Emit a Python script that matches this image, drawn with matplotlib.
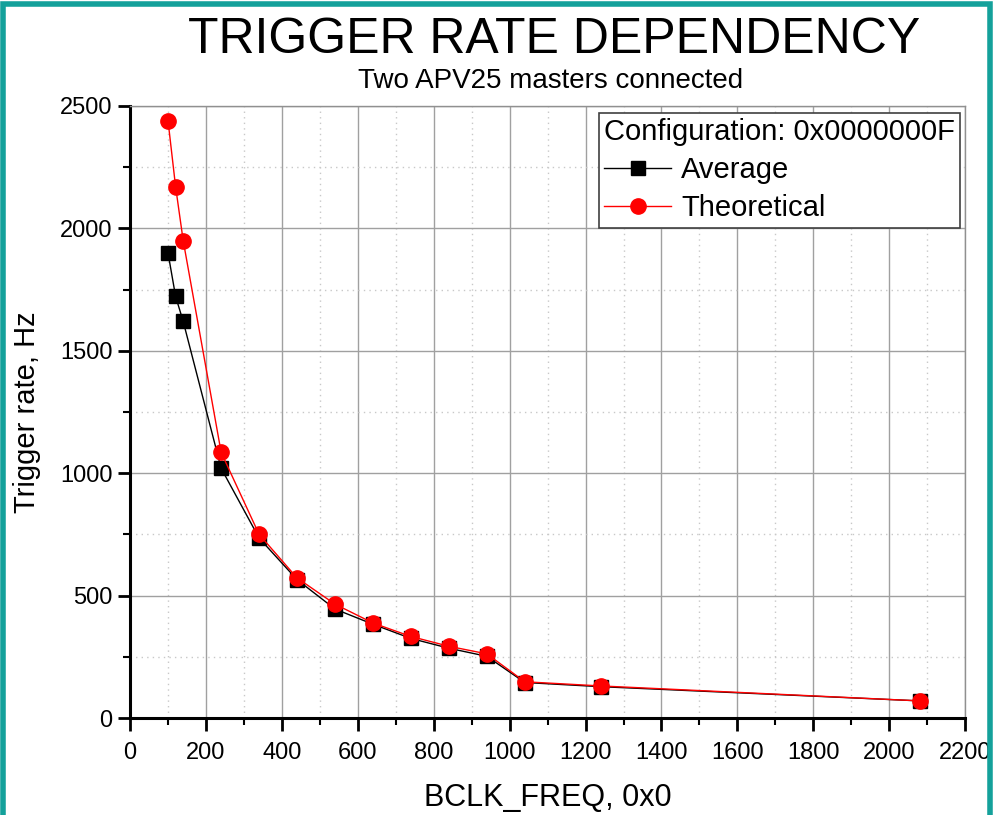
import matplotlib
matplotlib.use("Agg")
import matplotlib.pyplot as plt
from matplotlib.patches import Rectangle
from matplotlib.ticker import MultipleLocator

plt.rcParams['font.family'] = ['Liberation Sans', 'DejaVu Sans']

# BCLK_FREQ settings and measured / expected trigger rates (Hz)
bclk_freq = [100, 120, 140, 240, 340, 440, 540, 640, 740, 840, 940, 1040, 1240, 2080]
average = [1900, 1722, 1620, 1020, 735, 565, 445, 383, 325, 285, 252, 145, 128, 70]
theoretical = [2440, 2170, 1950, 1085, 750, 572, 465, 388, 333, 293, 262, 148, 131, 70]

fig = plt.figure(figsize=(9.95, 8.15), dpi=100)
ax = fig.add_axes([0.1307, 0.119, 0.8393, 0.751])

ax.plot(bclk_freq, average, color='black', lw=1, marker='s', ms=9.5,
        mfc='black', mec='black', label='Average', zorder=3)
ax.plot(bclk_freq, theoretical, color='red', lw=1, marker='o', ms=11,
        mfc='red', mec='red', label='Theoretical', zorder=4)

ax.set_xlim(0, 2200)
ax.set_ylim(0, 2500)
ax.xaxis.set_major_locator(MultipleLocator(200))
ax.xaxis.set_minor_locator(MultipleLocator(100))
ax.yaxis.set_major_locator(MultipleLocator(500))
ax.yaxis.set_minor_locator(MultipleLocator(250))

ax.grid(which='major', color='#a0a0a0', lw=1, ls='-')
ax.grid(which='minor', color='#c8c8c8', lw=1, ls=(0, (1, 3)))
ax.set_axisbelow(True)

for s in ['left', 'bottom']:
    ax.spines[s].set_linewidth(2.2)
    ax.spines[s].set_color('black')
for s in ['top', 'right']:
    ax.spines[s].set_linewidth(1)
    ax.spines[s].set_color('#909090')

ax.tick_params(which='major', direction='out', length=9, width=2, labelsize=17)
ax.tick_params(which='minor', direction='out', length=5, width=1.5)
ax.tick_params(axis='x', pad=8)

ax.set_xlabel('BCLK_FREQ, 0x0', fontsize=22, labelpad=14)
ax.set_ylabel('Trigger rate, Hz', fontsize=21, labelpad=14)

fig.text(0.557, 0.951, 'TRIGGER RATE DEPENDENCY', fontsize=36, ha='center', va='center')
fig.text(0.553, 0.900, 'Two APV25 masters connected', fontsize=20, ha='center', va='center')

leg = ax.legend(loc='upper right', title='Configuration: 0x0000000F',
                fontsize=21, title_fontsize=21, fancybox=False, framealpha=1,
                edgecolor='#404040', borderpad=0.18, labelspacing=0.35,
                handlelength=2.3, handletextpad=0.35, borderaxespad=0,
                bbox_to_anchor=(0.994, 0.989))
leg._legend_box.align = 'left'
leg.get_frame().set_linewidth(1.2)

# teal frame around the whole picture
fig.patches.append(Rectangle((0.003, -0.02), 0.992, 1.015, transform=fig.transFigure,
                             fill=False, edgecolor='#14a19b', lw=4))

fig.savefig('out.png', dpi=100)
